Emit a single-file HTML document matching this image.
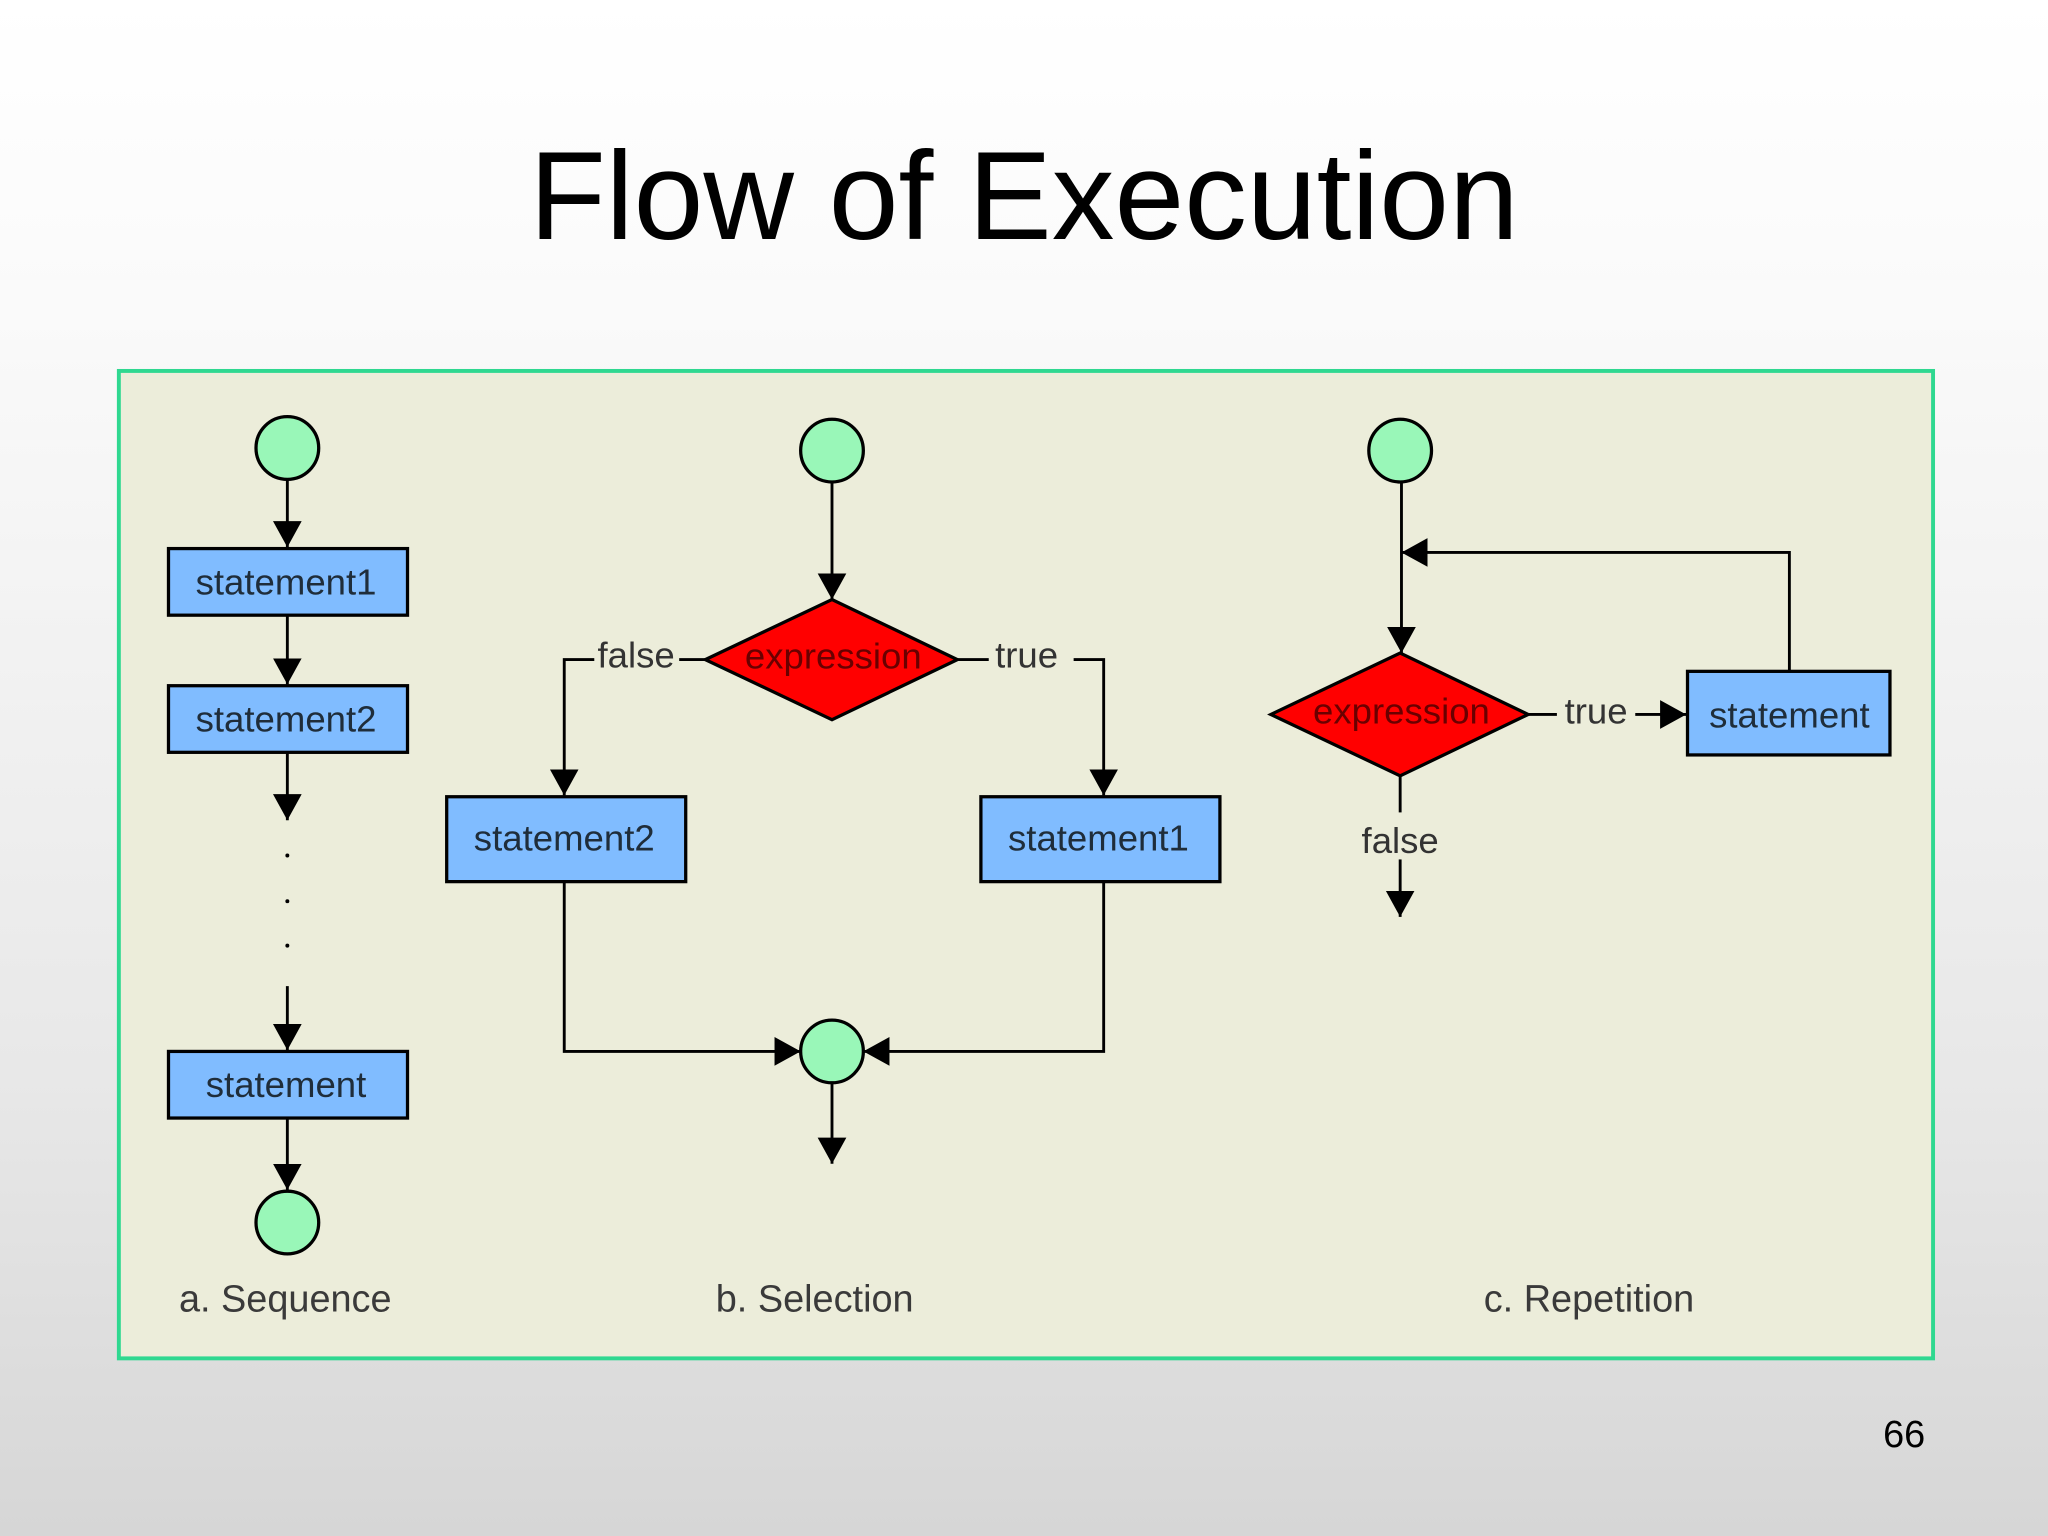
<!DOCTYPE html>
<html><head><meta charset="utf-8"><style>
html,body{margin:0;padding:0;width:2048px;height:1536px;overflow:hidden;}
body{background:linear-gradient(to bottom,#ffffff 0%,#fafafa 20%,#e8e8e8 70%,#d6d6d6 100%);}
svg{display:block}
</style></head><body>
<svg width="2048" height="1536" viewBox="0 0 1568 1176" xmlns="http://www.w3.org/2000/svg" font-family="'Liberation Sans', 'DejaVu Sans', sans-serif">
<defs>
<marker id="a" markerUnits="userSpaceOnUse" markerWidth="22" markerHeight="24" refX="20" refY="11" orient="auto">
<polygon points="0,0 20,11 0,22" fill="#000"/>
</marker>
</defs>
<text x="784" y="183" font-size="96" text-anchor="middle" fill="#000">Flow of Execution</text>
<rect x="91" y="284" width="1389" height="756" fill="#ecedda" stroke="#2fd890" stroke-width="3"/>
<g stroke="#000" stroke-width="2.2" fill="none">
<line x1="220" y1="367" x2="220" y2="419" marker-end="url(#a)"/>
<line x1="220" y1="471" x2="220" y2="524" marker-end="url(#a)"/>
<line x1="220" y1="576" x2="220" y2="628" marker-end="url(#a)"/>
<line x1="220" y1="755" x2="220" y2="804" marker-end="url(#a)"/>
<line x1="220" y1="856" x2="220" y2="911" marker-end="url(#a)"/>
<line x1="637" y1="369" x2="637" y2="459" marker-end="url(#a)"/>
<polyline points="520,505 540,505"/>
<polyline points="455,505 432,505 432,609" marker-end="url(#a)"/>
<polyline points="733,505 757,505"/>
<polyline points="822,505 845,505 845,609" marker-end="url(#a)"/>
<polyline points="432,675 432,805 613,805" marker-end="url(#a)"/>
<polyline points="845,675 845,805 661,805" marker-end="url(#a)"/>
<line x1="637" y1="829" x2="637" y2="891" marker-end="url(#a)"/>
<line x1="1073" y1="369" x2="1073" y2="500" marker-end="url(#a)"/>
<polyline points="1370,514 1370,423 1073,423" marker-end="url(#a)"/>
<line x1="1170" y1="547" x2="1192" y2="547"/>
<line x1="1252" y1="547" x2="1291" y2="547" marker-end="url(#a)"/>
<line x1="1072" y1="594" x2="1072" y2="622"/>
<line x1="1072" y1="658" x2="1072" y2="702" marker-end="url(#a)"/>
</g>
<g fill="#000">
<circle cx="220" cy="655" r="1.5"/><circle cx="220" cy="690" r="1.5"/><circle cx="220" cy="724" r="1.5"/>
</g>
<g fill="#99f7b8" stroke="#000" stroke-width="2.5">
<circle cx="220" cy="343" r="24"/>
<circle cx="220" cy="936" r="24"/>
<circle cx="637" cy="345" r="24"/>
<circle cx="637" cy="805" r="24"/>
<circle cx="1072" cy="345" r="24"/>
</g>
<g fill="#80bcff" stroke="#000" stroke-width="2.5">
<rect x="129" y="420" width="183" height="51"/>
<rect x="129" y="525" width="183" height="51"/>
<rect x="129" y="805" width="183" height="51"/>
<rect x="342" y="610" width="183" height="65"/>
<rect x="751" y="610" width="183" height="65"/>
<rect x="1292" y="514" width="155" height="64"/>
</g>
<g fill="#ff0000" stroke="#000" stroke-width="2.5">
<polygon points="540,505 637,459 733,505 637,551"/>
<polygon points="973,547 1072,500 1170,547 1072,594"/>
</g>
<g font-size="28" fill="#1f2d3a" text-anchor="middle">
<text x="219" y="455">statement1</text>
<text x="219" y="560">statement2</text>
<text x="219" y="840">statement</text>
<text x="432" y="651">statement2</text>
<text x="841" y="651">statement1</text>
<text x="1370" y="557">statement</text>
</g>
<g font-size="28" fill="#6a0000" text-anchor="middle">
<text x="638" y="512">expression</text>
<text x="1073" y="554">expression</text>
</g>
<g font-size="28" fill="#333" text-anchor="middle">
<text x="487" y="511">false</text>
<text x="786" y="511">true</text>
<text x="1222" y="554">true</text>
<text x="1072" y="653">false</text>
</g>
<g font-size="29" fill="#3a3a3a">
<text x="137" y="1004">a.  Sequence</text>
<text x="548" y="1004">b.  Selection</text>
<text x="1136" y="1004">c.  Repetition</text>
</g>
<text x="1474" y="1108" font-size="29" text-anchor="end" fill="#000">66</text>
</svg>
</body></html>
